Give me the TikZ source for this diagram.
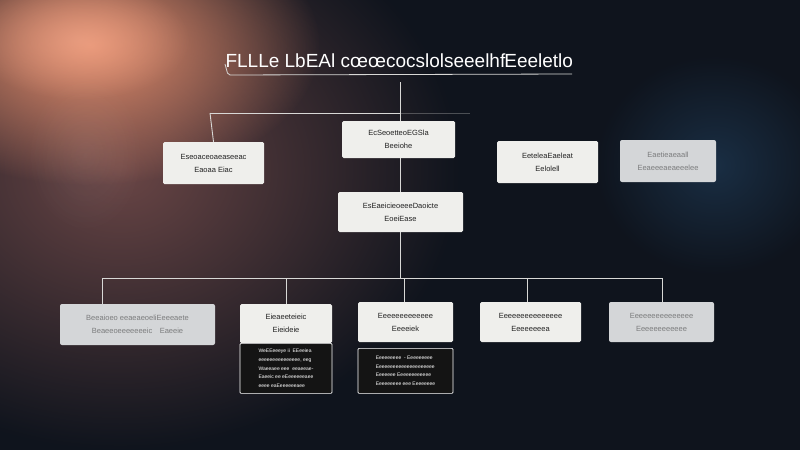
\documentclass[tikz,border=0pt]{standalone}
\usepackage{fontspec}
\setmainfont{Liberation Sans}
\usetikzlibrary{positioning,fadings}
\definecolor{bgc}{HTML}{0F141D}
\definecolor{glowR}{HTML}{E8906E}
\definecolor{glowB}{HTML}{6A4646}
\definecolor{glowN}{HTML}{21405E}
\definecolor{boxw}{HTML}{EFEFEC}
\definecolor{boxb}{HTML}{D4D6D8}
\definecolor{txt}{HTML}{222222}
\definecolor{lin}{HTML}{D8D8D6}
\tikzfading[name=softglow, inner color=transparent!0, outer color=transparent!100]
\tikzset{
  box/.style={fill=boxw, rounded corners=1.5pt, text=txt, align=center,
    font=\fontsize{7.5}{13}\selectfont, inner sep=2pt},
  blurbox/.style={fill=boxb, rounded corners=2pt, text=txt!50!boxb, align=center,
    font=\fontsize{7.5}{13}\selectfont, inner sep=2pt},
  darkbox/.style={fill=black!92, draw=white!80, line width=0.7pt, rounded corners=1pt,
    text=white, align=left, font=\fontsize{5}{8.6}\selectfont, inner sep=2pt},
  conn/.style={draw=lin, line width=0.9pt},
}
\begin{document}
\begin{tikzpicture}[x=1pt,y=-1pt]
\useasboundingbox (0,0) rectangle (800,450);
% background
\fill[bgc] (0,0) rectangle (800,450);
\fill[glowN, path fading=softglow, opacity=0.6] (715,165) ellipse (120pt and 110pt);
\fill[glowB, path fading=softglow] (120,170) ellipse (340pt and 280pt);
\fill[glowR, path fading=softglow] (90,45) ellipse (230pt and 140pt);
\fill[glowR!80!white, path fading=softglow, opacity=0.6] (80,40) ellipse (110pt and 60pt);
\fill[white, path fading=softglow, opacity=0.06] (85,155) ellipse (60pt and 80pt);
% title
\node[text=white, font=\fontsize{19}{22}\selectfont, anchor=base west] (title) at (222,67)
  {FLLLe LbEAl c\oe\oe cocslolseeelhf\kern-1ptEeeletlo};
\coordinate (ulA) at (225,64);
\coordinate (ulB) at (228,75);
\coordinate (ulC) at (572,74);
\draw[conn, line width=0.8pt, rounded corners=2pt] (ulA) -- (ulB) -- (ulC);
% tree coordinates
\coordinate (trunkTop) at (400,82);
\coordinate (branchT) at (400,113);
\coordinate (branchTL) at (210,113);
\coordinate (bus) at (400,278);
\coordinate (busL) at (102,278);
\coordinate (busR) at (662,278);
% connectors under boxes
\draw[conn] (trunkTop) -- (bus);
\draw[conn] (branchT) -- (branchTL);
\draw[conn, opacity=0.3] (branchT) -- (470,113);
\draw[conn] (busL) -- (busR);
% top boxes
\node[box, minimum width=101pt, minimum height=42pt] (A) at (213.5,163)
  {Eseoaceoaeaseeac\\Eaoaa Eiac};
\node[box, minimum width=113pt, minimum height=37pt] (B) at (398.5,139.5)
  {EcSeoetteoEGSla\\Beeiohe};
\node[box, minimum width=125pt, minimum height=40pt] (C) at (400.5,212)
  {EsEaeicieoeeeDaoicte\\EoeiEase};
\node[box, minimum width=101pt, minimum height=42pt] (D) at (547.5,162)
  {EeteleaEaeleat\\Eelolell};
\node[blurbox, minimum width=96pt, minimum height=42pt] (E) at (668,161)
  {Eaetieaeaall\\Eeaeeeaeaeeelee};
% bottom boxes
\node[blurbox, minimum width=155pt, minimum height=41pt] (F) at (137.5,324.5)
  {Beeaioeo eeaeaeoeliEeeeaete\\Beaeeoeeeeeeeic\quad Eaeeie};
\node[box, minimum width=92pt, minimum height=39pt] (G) at (286,323.5)
  {Eieaeeteieic\\Eieideie};
\node[darkbox, minimum width=92pt, minimum height=50pt, anchor=north] (G2) at (286,343)
  {WeEEeeeye ii\ \ EEeeiea\\eeeeeeeeeeeeeee, eeg\\Waeeaee eee\ \ eeaeeae-\\Eaeeic ee eEeeeeeeaee\\eeee eaEeeeeeeaee};
\node[box, minimum width=95pt, minimum height=40pt] (H) at (405.5,322)
  {Eeeeeeeeeeeee\\Eeeeiek};
\node[darkbox, minimum width=95pt, minimum height=45pt, anchor=north] (H2) at (405.5,348)
  {Eeeeeeeee\ \ -\ Eeeeeeeee\\Eeeeeeeeeeeeeeeeeeeee\\Eeeeeee Eeeeeeeeeeee\\Eeeeeeeee eee\ Eeeeeeee};
\node[box, minimum width=101pt, minimum height=40pt] (I) at (530.5,322)
  {Eeeeeeeeeeeeeee\\Eeeeeeeea};
\node[blurbox, minimum width=105pt, minimum height=40pt] (J) at (661.5,322)
  {Eeeeeeeeeeeeeee\\Eeeeeeeeeeee};
% drops
\draw[conn] (branchTL) -- (A.north);
\draw[conn] (busL) -- (busL |- F.north);
\draw[conn] (286,278) -- (G.north);
\draw[conn] (404,278) -- (404,0 |- H.north);
\draw[conn] (527,278) -- (527,0 |- I.north);
\draw[conn] (busR) -- (busR |- J.north);
\end{tikzpicture}
\end{document}
